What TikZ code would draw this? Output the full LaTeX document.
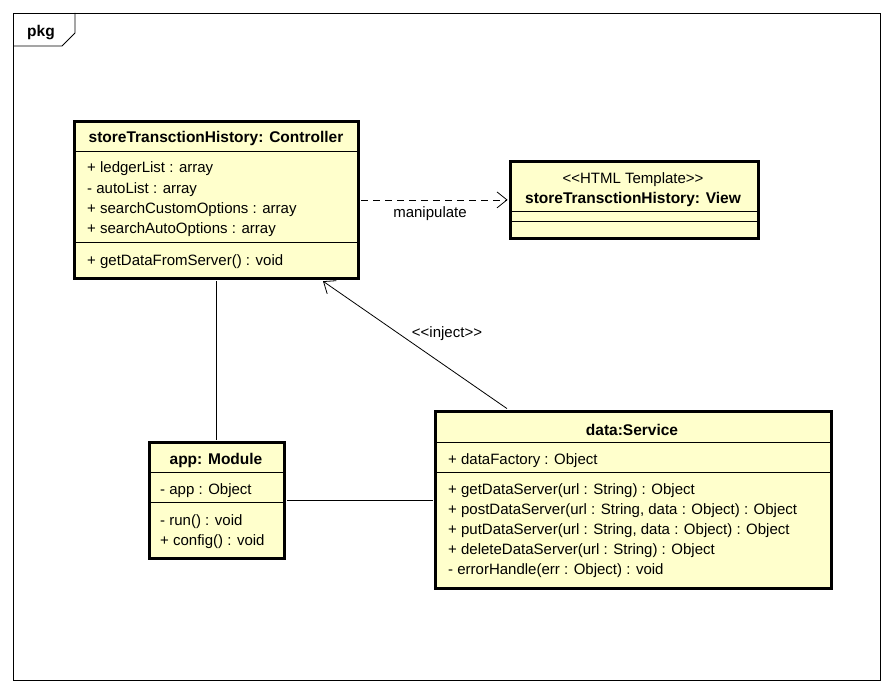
\documentclass[tikz,border=0pt]{standalone}
\usepackage{fontspec}
\setmainfont{Liberation Sans}
\usetikzlibrary{arrows.meta,calc}
\definecolor{umlfill}{HTML}{FFFFCC}
\newcommand{\stereoL}{<\kern0pt<}
\newcommand{\stereoR}{>\kern0pt>}
\begin{document}
\begin{tikzpicture}[x=1pt,y=-1pt,
  box/.style={draw, line width=2.8pt, fill=umlfill, inner sep=0pt, anchor=north west},
  sepline/.style={line width=0.8pt},
  txt/.style={anchor=west, inner sep=0pt, yshift=-1.8pt, font=\fontsize{15}{17}\selectfont},
  ctxt/.style={inner sep=0pt, yshift=-1.8pt, font=\fontsize{15}{17}\selectfont},
  hdr/.style={inner sep=0pt, yshift=-1.8pt, font=\fontsize{15.5}{17}\selectfont\bfseries},
  conn/.style={line width=0.8pt},
  barb/.style={-{Straight Barb[length=10pt,width=16pt,line width=0.8pt]}}]
\useasboundingbox (0,0) rectangle (893,693);
\fill[white] (0,0) rectangle (893,693);

% package frame
\draw[line width=0.8pt] (13,13) rectangle (880,680);
\draw[line width=0.8pt] (13,46) -- (62,46) -- (75,33) -- (75,13);
\node[hdr] (pkg) at (41,31) {pkg};

% Controller
\node[box, minimum width=284pt, minimum height=157pt] (ctrl) at (73,120) {};
\draw[sepline] (73,151) -- (357,151);
\draw[sepline] (73,242) -- (357,242);
\node[hdr] (ctrlH) at (216,137) {storeTransctionHistory: Controller};
\node[txt] (c1) at (87,167) {+ ledgerList : array};
\node[txt] (c2) at (87,188) {- autoList : array};
\node[txt] (c3) at (87,208) {+ searchCustomOptions : array};
\node[txt] (c4) at (87,228) {+ searchAutoOptions : array};
\node[txt] (c5) at (87,260) {+ getDataFromServer() : void};

% View
\node[box, minimum width=248pt, minimum height=77pt] (view) at (509,160) {};
\draw[sepline] (509,211) -- (757,211);
\draw[sepline] (509,221) -- (757,221);
\node[ctxt] (viewS) at (633,178) {\stereoL HTML Template\stereoR};
\node[hdr] (viewH) at (633,198) {storeTransctionHistory: View};

% Module
\node[box, minimum width=135pt, minimum height=116pt] (mod) at (148,441) {};
\draw[sepline] (148,472) -- (283,472);
\draw[sepline] (148,502) -- (283,502);
\node[hdr] (modH) at (216,459) {app: Module};
\node[txt] (m1) at (160,489) {- app : Object};
\node[txt] (m2) at (160,520) {- run() : void};
\node[txt] (m3) at (160,540) {+ config() : void};

% Service
\node[box, minimum width=396pt, minimum height=177pt] (svc) at (434,410) {};
\draw[sepline] (434,442) -- (830,442);
\draw[sepline] (434,472) -- (830,472);
\node[hdr] (svcH) at (632,428) {data:Service};
\node[txt] (s1) at (448,459) {+ dataFactory : Object};
\node[txt] (s2) at (448,489) {+ getDataServer(url : String) : Object};
\node[txt] (s3) at (448,509) {+ postDataServer(url : String, data : Object) : Object};
\node[txt] (s4) at (448,529) {+ putDataServer(url : String, data : Object) : Object};
\node[txt] (s5) at (448,549) {+ deleteDataServer(url : String) : Object};
\node[txt] (s6) at (448,569) {- errorHandle(err : Object) : void};

% connectors
\draw[conn, dash pattern=on 7pt off 5pt, barb] ($(ctrl.east)+(1.4,0)$) -- ($(view.west)+(-1.4,0)$);
\node[ctxt] (manip) at (430,212) {manipulate};
\draw[conn] ($(ctrl.south)+(0,1.4)$) -- ($(ctrl.south |- mod.north)+(0,-1.4)$);
\draw[conn] ($(mod.east)+(1.4,0)$) -- ($(mod.east -| svc.west)+(-1.4,0)$);
\draw[conn, barb] ($(svc.north west)+(73,-1.4)$) -- ($(ctrl.south west)+(250,1.4)$);
\node[ctxt] (inj) at (447,332) {\stereoL inject\stereoR};
\end{tikzpicture}
\end{document}
